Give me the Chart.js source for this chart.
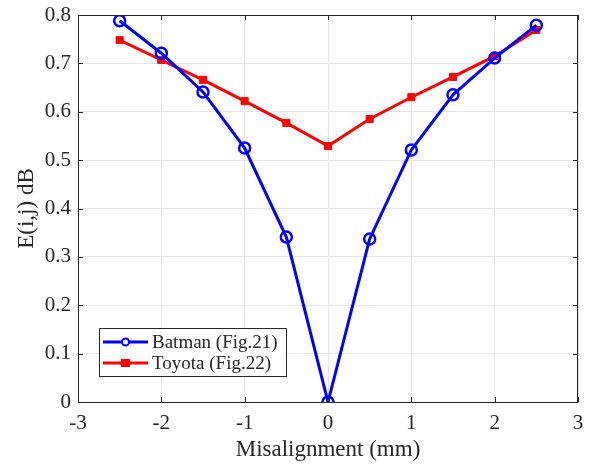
<!DOCTYPE html>
<html>
<head>
<meta charset="utf-8">
<script src="https://cdn.jsdelivr.net/npm/chart.js@4/dist/chart.umd.min.js"></script>
<style>
  html, body { margin: 0; padding: 0; background: #fff; }
  #wrap { width: 591px; height: 464px; }
</style>
</head>
<body>
<div id="wrap"><canvas id="c"></canvas></div>
<script>
const xValues = [-2.5, -2, -1.5, -1, -0.5, 0, 0.5, 1, 1.5, 2, 2.5];
const batman = [0.788, 0.721, 0.641, 0.525, 0.341, 0.0, 0.337, 0.521, 0.635, 0.711, 0.779];
const toyota = [0.748, 0.707, 0.666, 0.622, 0.577, 0.529, 0.585, 0.630, 0.672, 0.715, 0.769];
const seriesNames = ['Batman (Fig.21)', 'Toyota (Fig.22)'];
const xTicks = [-3, -2, -1, 0, 1, 2, 3];
const yTicks = [0, 0.1, 0.2, 0.3, 0.4, 0.5, 0.6, 0.7, 0.8];

const FONT = '"Liberation Serif", "Times New Roman", serif';
const BLUE = '#0000ff';
const RED = '#ff0000';

function pts(ys) {
  return xValues.map((x, i) => ({ x, y: ys[i] }));
}

// box around plot + inward tick marks, MATLAB style
const boxPlugin = {
  id: 'box',
  afterDraw(chart) {
    const { ctx, chartArea: a, scales } = chart;
    ctx.save();
    ctx.strokeStyle = '#262626';
    ctx.lineWidth = 1;
    ctx.strokeRect(a.left + 0.5, a.top + 0.5, a.right - a.left - 1, a.bottom - a.top);
    ctx.beginPath();
    xTicks.forEach(v => {
      const px = Math.round(scales.x.getPixelForValue(v)) + 0.5;
      ctx.moveTo(px, a.bottom); ctx.lineTo(px, a.bottom - 5);
      ctx.moveTo(px, a.top); ctx.lineTo(px, a.top + 5);
    });
    yTicks.forEach(v => {
      const py = Math.round(scales.y.getPixelForValue(v)) + 0.5;
      ctx.moveTo(a.left, py); ctx.lineTo(a.left + 5, py);
      ctx.moveTo(a.right, py); ctx.lineTo(a.right - 5, py);
    });
    ctx.stroke();

    // legend box
    const lx = 99, ly = 328, lw = 187, lh = 48;
    ctx.fillStyle = '#fff';
    ctx.fillRect(lx, ly, lw, lh);
    ctx.strokeStyle = '#262626';
    ctx.strokeRect(lx + 0.5, ly + 0.5, lw, lh);
    ctx.font = '19px ' + FONT;
    ctx.textBaseline = 'middle';
    const rows = [
      { name: seriesNames[0], color: BLUE, y: ly + 14, marker: 'circle' },
      { name: seriesNames[1], color: RED, y: ly + 35, marker: 'square' }
    ];
    rows.forEach(r => {
      ctx.strokeStyle = r.color;
      ctx.lineWidth = 3;
      ctx.beginPath();
      ctx.moveTo(103, r.y); ctx.lineTo(148, r.y);
      ctx.stroke();
      if (r.marker === 'circle') {
        ctx.lineWidth = 2;
        ctx.fillStyle = '#fff';
        ctx.beginPath();
        ctx.arc(125.5, r.y, 3.5, 0, Math.PI * 2);
        ctx.fill(); ctx.stroke();
      } else {
        ctx.fillStyle = r.color;
        ctx.fillRect(121, r.y - 4, 9, 8);
      }
      ctx.fillStyle = '#262626';
      ctx.fillText(r.name, 152, r.y + 1);
    });
    ctx.restore();
  }
};

new Chart(document.getElementById('c'), {
  type: 'scatter',
  data: {
    datasets: [
      {
        label: seriesNames[1],
        data: pts(toyota),
        showLine: true,
        borderColor: RED,
        backgroundColor: RED,
        borderWidth: 3,
        pointStyle: 'rect',
        pointRadius: 5,
        pointBorderWidth: 1,
        order: 2
      },
      {
        label: seriesNames[0],
        data: pts(batman),
        showLine: true,
        borderColor: BLUE,
        backgroundColor: 'rgba(255,255,255,0)',
        borderWidth: 3,
        pointStyle: 'circle',
        pointRadius: 5.5,
        pointBorderWidth: 2.5,
        order: 1
      }
    ]
  },
  options: {
    responsive: true,
    maintainAspectRatio: false,
    animation: false,
    layout: { padding: { top: 15, right: 13, left: 0, bottom: 0 } },
    plugins: { legend: { display: false }, tooltip: { enabled: false } },
    scales: {
      x: {
        type: 'linear',
        min: -3,
        max: 3,
        afterBuildTicks: (s) => { s.ticks = xTicks.map(v => ({ value: v })); },
        afterFit: (s) => {
          s.height = 62;
          s.paddingLeft = 0; s.paddingRight = 0;
        },
        grid: { color: '#e6e6e6', drawTicks: false },
        border: { display: false },
        ticks: {
          color: '#262626',
          font: { family: FONT, size: 21 },
          padding: 9,
          callback: (v) => String(v)
        },
        title: {
          display: true,
          text: 'Misalignment (mm)',
          color: '#262626',
          font: { family: FONT, size: 23 },
          padding: { top: 0, bottom: 0 }
        }
      },
      y: {
        min: 0,
        max: 0.8,
        afterBuildTicks: (s) => { s.ticks = yTicks.map(v => ({ value: v })); },
        afterFit: (s) => {
          s.width = 78;
          s.paddingTop = 0; s.paddingBottom = 0;
        },
        grid: { color: '#e6e6e6', drawTicks: false },
        border: { display: false },
        ticks: {
          color: '#262626',
          font: { family: FONT, size: 21 },
          padding: 7,
          callback: (v) => String(Math.round(v * 10) / 10)
        },
        title: {
          display: true,
          text: 'E(i,j) dB',
          color: '#262626',
          font: { family: FONT, size: 23 },
          padding: { top: 13, bottom: 0 }
        }
      }
    }
  },
  plugins: [boxPlugin]
});
</script>
</body>
</html>
